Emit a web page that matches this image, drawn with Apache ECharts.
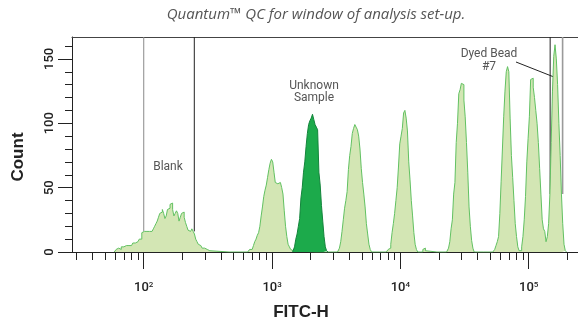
<!DOCTYPE html>
<html><head><meta charset="utf-8">
<script src="https://cdn.jsdelivr.net/npm/echarts@6/dist/echarts.min.js"></script>
<style>html,body{margin:0;padding:0;background:#fff}#c{width:578px;height:326px}</style>
</head><body><div id="c"></div>
<script>
// ---- data (x = log10 FITC-H bin centre, bin width 0.01 decade; y = count) ----
const BIN = 0.01;
const blankStart = 1.78;
const blankCounts = [1,2,3,3,2,4,4,3,5,6,5,6,5,6,7,7,8,8,9,10,10,15,16,15,16,15,16,16,16,17,18,20,22,24,27,30,31,33,30,26,28,33,34,37,38,33,28,30,32,30,24,27,30,31,27,23,20,17,16,17,18,16,14,10,8,6,5,4,3,3,2,2,1,1];
const bead1Start = 2.82;
const bead1Counts = [1,2,2,3,5,8,10,13,15,20,28,35,43,48,52,58,64,69,72,70,62,54,53,52,54,53,50,45,32,20,12,6,4,2,1];
const unknownStart = 3.17;
const unknownCounts = [1,4,10,14,20,26,42,50,62,70,82,92,99,102,104,107,103,99,97,95,62,52,36,24,12,4,1];
const bead2Start = 3.52;
const bead2Counts = [1,3,8,16,25,34,40,47,64,75,82,92,96,99,97,95,90,80,65,54,45,35,22,14,6,2];
const bead3Start = 3.90;
const bead3Counts = [1,2,3,6,15,22,30,40,50,66,84,90,96,108,110,104,94,70,56,40,28,15,6,2,0,0,0,0,2,3,1];
const bead4Start = 4.37;
const bead4Counts = [1,3,8,18,25,45,54,85,100,123,126,131,130,118,105,85,62,35,20,9,3];
const bead5Start = 4.73;
const bead5Counts = [1,2,5,8,12,30,55,80,105,125,140,144,140,104,75,58,40,22,12,4,1];
const bead6Start = 4.94;
const bead6Counts = [1,4,12,25,43,70,88,105,134,135,128,120,110,100,85,65,45,25,18,16,8];
const bead7Start = 5.15;
const bead7Counts = [12,22,45,85,125,152,161,150,130,100,75,45,22,6,1];

// gate boundaries (log10 FITC-H)
const gates = [2.0, 2.394, 5.167, 5.264];
const gateColors = ['#8a8a8a', '#222222', '#222222', '#9a9a9a'];

// axis ticks
const yMajorTicks = [0, 50, 100, 150];
const yMinorTicks = [10, 20, 30, 40, 60, 70, 80, 90, 110, 120, 130, 140, 160];
const xDecades = [2, 3, 4, 5];
const xMinorValues = [30,40,50,60,70,80,90,200,300,400,500,600,700,800,900,2000,3000,4000,5000,6000,7000,8000,9000,20000,30000,40000,50000,60000,70000,80000,90000,200000];

const X_MIN = 1.441, X_MAX = 5.384, Y_MAX = 167;

function toMap(peaks) {
  const m = new Map();
  peaks.forEach(p => {
    const s = Math.round(p.start / BIN);
    p.counts.forEach((c, i) => m.set(s + i, c));
  });
  peaks.forEach(p => {
    const s = Math.round(p.start / BIN), e = s + p.counts.length;
    if (!m.has(s - 1)) m.set(s - 1, 0);
    if (!m.has(e)) m.set(e, 0);
  });
  return m;
}
const toData = m => [...m.keys()].sort((a, b) => a - b).map(k => [k * BIN, m.get(k)]);

const lightMap = toMap([
  {start: blankStart, counts: blankCounts},
  {start: bead1Start, counts: bead1Counts},
  {start: bead2Start, counts: bead2Counts},
  {start: bead3Start, counts: bead3Counts},
  {start: bead4Start, counts: bead4Counts},
  {start: bead5Start, counts: bead5Counts},
  {start: bead6Start, counts: bead6Counts},
  {start: bead7Start, counts: bead7Counts}
]);
const lightData = toData(lightMap);
const darkData = toData(toMap([{start: unknownStart, counts: unknownCounts}]));

// gate lines run from the top of the plot down to the histogram at that position
const gateSeries = gates.map((g, i) => ({
  type: 'line', data: [[g, lightMap.get(Math.round(g / BIN)) || 0], [g, Y_MAX]], symbol: 'none', z: 1, silent: true,
  lineStyle: {color: gateColors[i], width: i === 3 ? 1.6 : 1}
}));

const FONT = 'Roboto, "Liberation Sans", Arial, sans-serif';
const chart = echarts.init(document.getElementById('c'), null, {renderer: 'canvas'});
chart.setOption({
  animation: false,
  grid: {left: 72, right: 0, top: 37, bottom: 74},
  xAxis: [
    {type: 'value', min: X_MIN, max: X_MAX,
      axisLine: {show: true, lineStyle: {color: '#222', width: 1}},
      axisTick: {show: true, customValues: xDecades, length: 17, lineStyle: {color: '#222', width: 1}},
      axisLabel: {show: true, customValues: xDecades, margin: 29,
        formatter: v => '{a|10}{b|' + v + '}',
        rich: {
          a: {fontFamily: FONT, fontSize: 13, fontWeight: 500, color: '#222', lineHeight: 14},
          b: {fontFamily: FONT, fontSize: 8, fontWeight: 500, color: '#222', verticalAlign: 'top', lineHeight: 9}
        }},
      splitLine: {show: false}},
    {type: 'value', min: X_MIN, max: X_MAX, position: 'bottom',
      axisLine: {show: false},
      axisTick: {show: true, customValues: xMinorValues.map(v => Math.log10(v)), length: 8, lineStyle: {color: '#222', width: 1}},
      axisLabel: {show: false}, splitLine: {show: false}},
    {type: 'value', min: X_MIN, max: X_MAX, position: 'top',
      axisLine: {show: true, lineStyle: {color: '#444', width: 1}},
      axisTick: {show: false}, axisLabel: {show: false}, splitLine: {show: false}}
  ],
  yAxis: [
    {type: 'value', min: 0, max: Y_MAX,
      axisLine: {show: true, lineStyle: {color: '#222', width: 1}},
      axisTick: {show: true, customValues: yMajorTicks, length: 14, lineStyle: {color: '#222', width: 1}},
      axisLabel: {show: true, customValues: yMajorTicks, rotate: 90, margin: 16,
        fontFamily: FONT, fontSize: 13, fontWeight: 500, color: '#222'},
      splitLine: {show: false}},
    {type: 'value', min: 0, max: Y_MAX, position: 'left',
      axisLine: {show: false},
      axisTick: {show: true, customValues: yMinorTicks, length: 7, lineStyle: {color: '#222', width: 1}},
      axisLabel: {show: false}, splitLine: {show: false}}
  ],
  series: gateSeries.concat([
    {type: 'line', data: lightData, step: 'middle', symbol: 'none', z: 2,
      lineStyle: {color: '#62c162', width: 1},
      areaStyle: {color: '#d3e6b4', opacity: 1}},
    {type: 'line', data: darkData, step: 'middle', symbol: 'none', z: 3,
      lineStyle: {color: '#14853c', width: 1},
      areaStyle: {color: '#1caa4b', opacity: 1}}
  ]),
  graphic: [
    {type: 'text', x: 316, y: 15, style: {text: 'Quantum™ QC for window of analysis set-up.', fontFamily: '"Open Sans", Roboto, sans-serif', fontSize: 15, fontStyle: 'italic', fontWeight: 400, fill: '#555', align: 'center', verticalAlign: 'middle'}},
    {type: 'text', x: 18, y: 157, rotation: Math.PI / 2, style: {text: 'Count', fontFamily: '"Liberation Sans", Arial, sans-serif', fontSize: 17, fontWeight: 'bold', fill: '#222', align: 'center', verticalAlign: 'middle'}},
    {type: 'text', x: 301, y: 312, style: {text: 'FITC-H', fontFamily: '"Liberation Sans", Arial, sans-serif', fontSize: 17, fontWeight: 'bold', fill: '#222', align: 'center', verticalAlign: 'middle'}},
    {type: 'text', x: 168, y: 167, style: {text: 'Blank', fontFamily: FONT, fontSize: 12, fill: '#555', align: 'center', verticalAlign: 'middle'}},
    {type: 'text', x: 314, y: 92, style: {text: 'Unknown\nSample', fontFamily: FONT, fontSize: 12, lineHeight: 12, fill: '#555', align: 'center', verticalAlign: 'middle'}},
    {type: 'text', x: 489, y: 60, style: {text: 'Dyed Bead\n#7', fontFamily: FONT, fontSize: 12, lineHeight: 13, fill: '#555', align: 'center', verticalAlign: 'middle'}},
    {type: 'line', shape: {x1: 516, y1: 62, x2: 554, y2: 77}, style: {stroke: '#222', lineWidth: 1}}
  ]
});
</script></body></html>
